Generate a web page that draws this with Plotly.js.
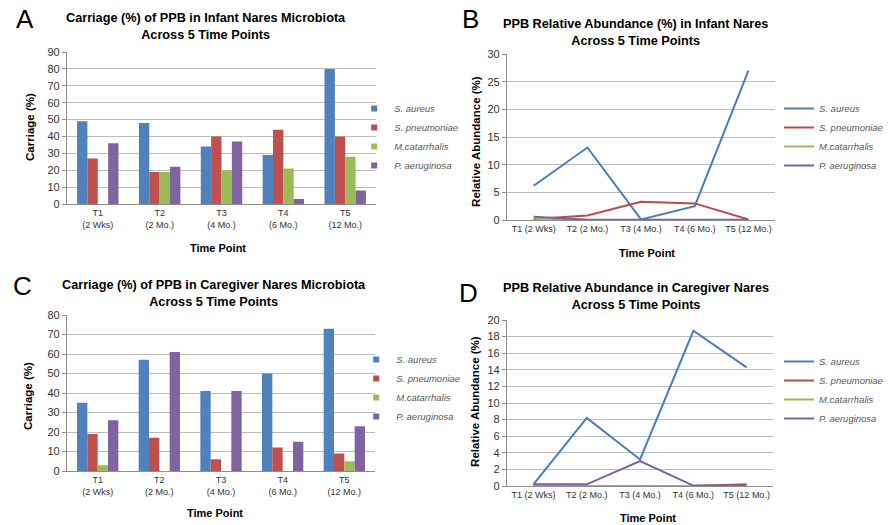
<!DOCTYPE html>
<html>
<head>
<meta charset="utf-8">
<script src="https://cdn.plot.ly/plotly-3.0.1.min.js"></script>
<style>
html,body{margin:0;padding:0;background:#fff;}
#chart{width:888px;height:525px;}
</style>
</head>
<body>
<div id="chart"></div>
<script>
// ---------- data ----------
const species = ['S. aureus', 'S. pneumoniae', 'M.catarrhalis', 'P. aeruginosa'];
const barCategories = ['T1<br>(2 Wks)', 'T2<br>(2 Mo.)', 'T3<br>(4 Mo.)', 'T4<br>(6 Mo.)', 'T5<br>(12 Mo.)'];
const lineCategories = ['T1 (2 Wks)', 'T2 (2 Mo.)', 'T3 (4 Mo.)', 'T4 (6 Mo.)', 'T5 (12 Mo.)'];

// Panel A: carriage (%) in infant nares
const infantCarriageAureus = [49, 48, 34, 29, 80];
const infantCarriagePneumoniae = [27, 19, 40, 44, 40];
const infantCarriageCatarrhalis = [0, 19, 20, 21, 28];
const infantCarriageAeruginosa = [36, 22, 37, 3, 8];

// Panel B: relative abundance (%) in infant nares
const infantAbundAureus = [6.2, 13.1, 0.1, 2.5, 27.0];
const infantAbundPneumoniae = [0.2, 0.8, 3.3, 3.0, 0.1];
const infantAbundCatarrhalis = [0.3, 0.0, 0.0, 0.0, 0.0];
const infantAbundAeruginosa = [0.6, 0.05, 0.05, 0.05, 0.05];

// Panel C: carriage (%) in caregiver nares
const caregiverCarriageAureus = [35, 57, 41, 50, 73];
const caregiverCarriagePneumoniae = [19, 17, 6, 12, 9];
const caregiverCarriageCatarrhalis = [3, 0, 0, 0, 5];
const caregiverCarriageAeruginosa = [26, 61, 41, 15, 23];

// Panel D: relative abundance (%) in caregiver nares
const caregiverAbundAureus = [0.2, 8.2, 3.2, 18.7, 14.3];
const caregiverAbundPneumoniae = [0.0, 0.0, 0.0, 0.0, 0.2];
const caregiverAbundCatarrhalis = [0.0, 0.0, 0.0, 0.0, 0.0];
const caregiverAbundAeruginosa = [0.2, 0.2, 3.0, 0.05, 0.05];

// ---------- styling ----------
const barColors = ['#4F81BD', '#C0504D', '#9BBB59', '#8064A2'];
const lineColors = ['#4A7EBB', '#BE4B48', '#98B954', '#7D60A0'];
const FONT = 'Liberation Sans, Arial, sans-serif';
const W = 888, H = 525;
const px = v => v / W;
const py = v => 1 - v / H;

function barTraces(series, xa, ya, leg) {
  const bars = series.map((vals, i) => ({
    type: 'bar', x: barCategories, y: vals, name: species[i],
    xaxis: xa, yaxis: ya, showlegend: false,
    marker: {color: barColors[i], line: {width: 0}}
  }));
  // legend-only entries with small square keys (as in the Excel original)
  const keys = species.map((s, i) => ({
    type: 'scatter', mode: 'markers', x: [null], y: [null], name: s,
    xaxis: xa, yaxis: ya, legend: leg,
    marker: {color: barColors[i], symbol: 'square', size: 6}
  }));
  return bars.concat(keys);
}
function lineTraces(series, xa, ya, leg) {
  return series.map((vals, i) => ({
    type: 'scatter', mode: 'lines', x: lineCategories, y: vals, name: species[i],
    xaxis: xa, yaxis: ya, legend: leg,
    line: {color: lineColors[i], width: 2}
  }));
}

const data = [].concat(
  barTraces([infantCarriageAureus, infantCarriagePneumoniae, infantCarriageCatarrhalis, infantCarriageAeruginosa], 'x', 'y', 'legend'),
  lineTraces([infantAbundAureus, infantAbundPneumoniae, infantAbundCatarrhalis, infantAbundAeruginosa], 'x2', 'y2', 'legend2'),
  barTraces([caregiverCarriageAureus, caregiverCarriagePneumoniae, caregiverCarriageCatarrhalis, caregiverCarriageAeruginosa], 'x3', 'y3', 'legend3'),
  lineTraces([caregiverAbundAureus, caregiverAbundPneumoniae, caregiverAbundCatarrhalis, caregiverAbundAeruginosa], 'x4', 'y4', 'legend4')
);

function xAxis(x0, x1, anchor) {
  return {
    domain: [px(x0), px(x1)], anchor: anchor, type: 'category', range: [-0.5, 4.5],
    showgrid: false, showline: true, linecolor: '#8c8c8c', linewidth: 1,
    ticks: '', tickfont: {family: FONT, size: 9, color: '#333'}, zeroline: false, fixedrange: true
  };
}
function yAxis(y0, y1, anchor, maxv, dt) {
  return {
    domain: [py(y1), py(y0)], anchor: anchor, range: [0, maxv], dtick: dt,
    showgrid: true, gridcolor: '#bdbdbd', gridwidth: 1,
    showline: true, linecolor: '#8c8c8c', linewidth: 1,
    ticks: 'outside', ticklen: 4, tickcolor: '#8c8c8c',
    tickfont: {family: FONT, size: 11, color: '#333'}, zeroline: false, fixedrange: true
  };
}

function legendAt(x, y) {
  return {
    x: px(x), y: py(y), xanchor: 'left', yanchor: 'top',
    bgcolor: 'rgba(0,0,0,0)', borderwidth: 0,
    font: {family: FONT, size: 9.5, color: '#595959', style: 'italic'},
    traceorder: 'normal'
  };
}

const ann = [];
function txt(x, y, text, size, bold, extra) {
  ann.push(Object.assign({
    x: px(x), y: py(y), xref: 'paper', yref: 'paper', text: bold ? '<b>' + text + '</b>' : text,
    showarrow: false, xanchor: 'center', yanchor: 'middle',
    font: {family: FONT, size: size, color: '#000'}
  }, extra || {}));
}
// panel letters
txt(25, 19, 'A', 26, false);
txt(472, 19, 'B', 26, false);
txt(23, 286, 'C', 26, false);
txt(470, 293, 'D', 26, false);
// titles
txt(206, 27, 'Carriage (%) of PPB in Infant Nares Microbiota<br>Across 5 Time Points', 12.7, true);
txt(637, 32, 'PPB Relative Abundance (%) in Infant Nares<br>Across 5 Time Points', 12.7, true);
txt(214, 293, 'Carriage (%) of PPB in Caregiver Nares Microbiota<br>Across 5 Time Points', 12.7, true);
txt(637, 296, 'PPB Relative Abundance in Caregiver Nares<br>Across 5 Time Points', 12.7, true);
// x axis titles
txt(218, 248, 'Time Point', 11, true);
txt(648, 253, 'Time Point', 11, true);
txt(215, 513, 'Time Point', 11, true);
txt(649, 518, 'Time Point', 11, true);
// y axis titles
txt(30, 127, 'Carriage (%)', 11.5, true, {textangle: -90});
txt(477, 141, 'Relative Abundance (%)', 11.5, true, {textangle: -90});
txt(28, 396, 'Carriage (%)', 11.5, true, {textangle: -90});
txt(476, 401, 'Relative Abundance (%)', 11.5, true, {textangle: -90});

const layout = {
  width: W, height: H,
  margin: {l: 0, r: 0, t: 0, b: 0, pad: 0},
  paper_bgcolor: '#fff', plot_bgcolor: '#fff',
  font: {family: FONT},
  barmode: 'group', bargap: 0.33, bargroupgap: 0,
  showlegend: true,
  xaxis: xAxis(67, 377, 'y'),
  yaxis: yAxis(52, 204, 'x', 90, 10),
  xaxis2: xAxis(508, 777, 'y2'),
  yaxis2: yAxis(54, 220, 'x2', 30, 5),
  xaxis3: xAxis(67, 376, 'y3'),
  yaxis3: yAxis(315, 471, 'x3', 80, 10),
  xaxis4: xAxis(508, 775, 'y4'),
  yaxis4: yAxis(320, 486, 'x4', 20, 2),
  legend: legendAt(355, 94),
  legend2: legendAt(781, 94),
  legend3: legendAt(357, 345),
  legend4: legendAt(781, 347),
  annotations: ann
};

Plotly.newPlot('chart', data, layout, {staticPlot: true, displayModeBar: false});
</script>
</body>
</html>
